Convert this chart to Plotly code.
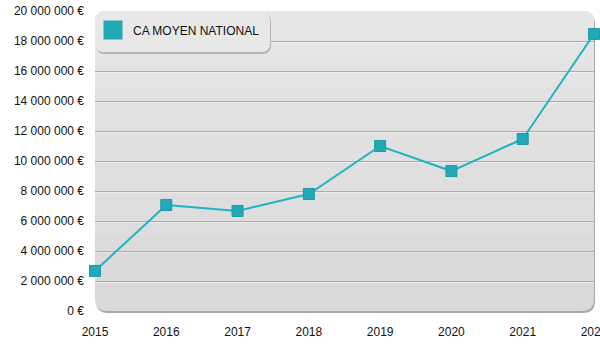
import plotly.graph_objects as go

years = [2015, 2016, 2017, 2018, 2019, 2020, 2021, 2022]
ca_moyen = [2670000, 7070000, 6670000, 7800000, 11000000, 9330000, 11470000, 18470000]
series_name = "CA MOYEN NATIONAL"
y_ticks = [0, 2000000, 4000000, 6000000, 8000000, 10000000, 12000000, 14000000, 16000000, 18000000, 20000000]
y_tick_labels = ["0 €", "2 000 000 €", "4 000 000 €", "6 000 000 €", "8 000 000 €", "10 000 000 €",
                 "12 000 000 €", "14 000 000 €", "16 000 000 €", "18 000 000 €", "20 000 000 €"]
x_tick_labels = ["2015", "2016", "2017", "2018", "2019", "2020", "2021", "2022"]

TEAL = "#1fb3c3"
MARK = "#22a9b6"

fig = go.Figure()
fig.add_trace(go.Scatter(
    x=years, y=ca_moyen, mode="lines+markers", name=series_name, showlegend=False,
    line=dict(color=TEAL, width=2),
    marker=dict(symbol="square", size=11, color=MARK, line=dict(color="#1c9aa6", width=1)),
    cliponaxis=False,
))
fig.add_trace(go.Scatter(
    x=[None], y=[None], mode="markers", name=series_name, showlegend=True,
    marker=dict(symbol="square", size=16, color=MARK, line=dict(color=MARK, width=3)),
))

def rounded(x0, y0, x1, y1, rx, ry):
    return (f"M {x0+rx},{y0} L {x1-rx},{y0} Q {x1},{y0} {x1},{y0+ry} "
            f"L {x1},{y1-ry} Q {x1},{y1} {x1-rx},{y1} L {x0+rx},{y1} "
            f"Q {x0},{y1} {x0},{y1-ry} L {x0},{y0+ry} Q {x0},{y0} {x0+rx},{y0} Z")

def rounded_top(x0, y0, x1, y1, rx, ry):
    return (f"M {x0},{y0} L {x1},{y0} L {x1},{y1-ry} Q {x1},{y1} {x1-rx},{y1} "
            f"L {x0+rx},{y1} Q {x0},{y1} {x0},{y1-ry} Z")

W, H = 499.0, 300.0
rx, ry = 12 / W, 12 / H
shapes = []
shapes.append(dict(type="path", xref="x domain", yref="y domain", layer="below",
                   path=rounded(0 + 1 / W, -2 / H, 1 + 1 / W, 1 - 1 / H, rx, ry),
                   fillcolor="#a9a9a9", line=dict(width=0)))
shapes.append(dict(type="path", xref="x domain", yref="y domain", layer="below",
                   path=rounded(0, 0, 1, 1, rx, ry),
                   fillcolor="#d9d9d9", line=dict(width=0)))
nb = 12
c0, c1 = 0xd9, 0xe6
for k in range(1, nb):
    y0 = k / nb
    c = int(round(c0 + (c1 - c0) * k / (nb - 1)))
    shapes.append(dict(type="path", xref="x domain", yref="y domain", layer="below",
                       path=rounded_top(0, y0, 1, 1, rx, ry),
                       fillcolor=f"rgb({c},{c},{c})", line=dict(width=0)))
px_y = 20000000 / H
for v in y_ticks[1:-1]:
    shapes.append(dict(type="line", xref="x domain", yref="y", layer="below",
                       x0=0, x1=1, y0=v - px_y, y1=v - px_y,
                       line=dict(color="rgba(255,255,255,0.8)", width=1)))
fig.update_layout(shapes=shapes)

# legend box
lx0, lx1 = 0.0, (270 - 95) / W
ly0, ly1 = (311 - 52) / H, (311 - 12) / H
fig.add_shape(type="path", xref="x domain", yref="y domain", layer="above",
              path=rounded(lx0 + 1 / W, ly0 - 2 / H, lx1 + 1 / W, ly1 - 1 / H, 9 / W, 9 / H),
              fillcolor="#b5b5b5", line=dict(width=0))
fig.add_shape(type="path", xref="x domain", yref="y domain", layer="above",
              path=rounded(lx0, ly0, lx1, ly1, 9 / W, 9 / H),
              fillcolor="#e8e8e8", line=dict(width=0))

fig.update_layout(
    width=600, height=350,
    margin=dict(l=95, r=6, t=11, b=39, autoexpand=False),
    paper_bgcolor="white", plot_bgcolor="rgba(0,0,0,0)",
    font=dict(family="Liberation Sans, Arial, sans-serif", size=12, color="#111"),
    showlegend=True,
    legend=dict(x=-0.004, y=0.985, xanchor="left", yanchor="top", bgcolor="rgba(0,0,0,0)",
                borderwidth=0, font=dict(size=12, color="#111"), itemwidth=30),
    xaxis=dict(range=[2015, 2022], tickvals=years, ticktext=x_tick_labels, automargin=False,
               showgrid=False, zeroline=False, showline=False, ticks="",
               ticklabeloverflow="allow", ticklabelstandoff=12,
               tickfont=dict(size=12, color="#111")),
    yaxis=dict(range=[0, 20000000], tickvals=y_ticks, ticktext=y_tick_labels, automargin=False,
               showgrid=True, gridcolor="#ababab", gridwidth=1, zeroline=False,
               showline=False, ticks="", ticklabelstandoff=10, ticklabeloverflow="allow",
               tickfont=dict(size=12, color="#111")),
)

fig.write_html("out.html")
